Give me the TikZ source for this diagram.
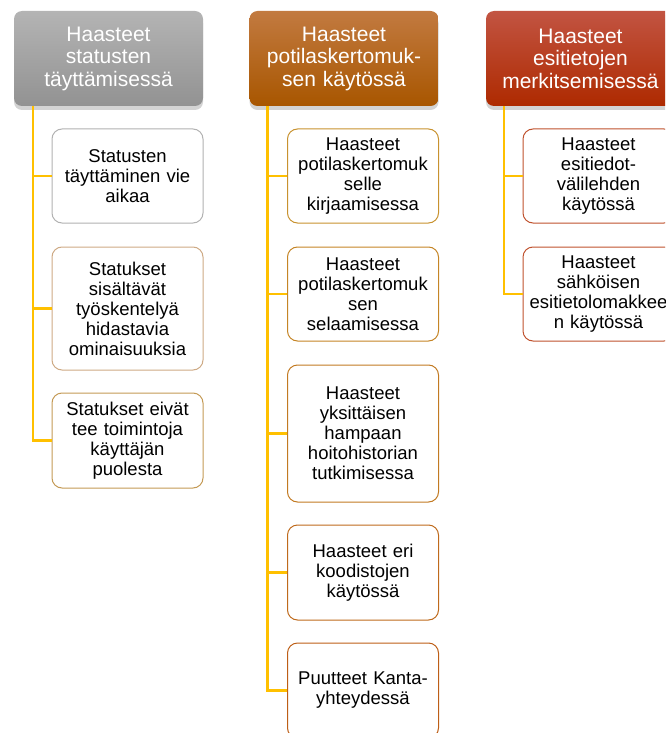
\documentclass[tikz,border=0pt]{standalone}
\usepackage{fontspec}
\setmainfont{Liberation Sans}
\usepackage{tikz}
\usetikzlibrary{shadows}
\definecolor{linkgold}{HTML}{FFC000}
\definecolor{greytop}{HTML}{B4B4B4}
\definecolor{greybot}{HTML}{929292}
\definecolor{browntop}{HTML}{C27A40}
\definecolor{brownbot}{HTML}{A85600}
\definecolor{redtop}{HTML}{C25442}
\definecolor{redbot}{HTML}{AE2A00}
\tikzset{
    head/.style={rounded corners=8pt, minimum width=189pt, minimum height=95pt,
        inner sep=3pt, text width=183pt, align=center, text=white,
        font=\fontsize{21}{22.5}\selectfont,
        drop shadow={shadow xshift=0pt, shadow yshift=-4pt, opacity=0.35}},
    item/.style={draw, fill=white, rounded corners=10pt, line width=1pt,
        minimum width=151pt, inner sep=3pt, text width=145pt, align=center,
        font=\fontsize{18.5}{20}\selectfont},
    link/.style={draw=linkgold, line width=2.5pt}}

\begin{document}
\begin{tikzpicture}[x=1pt, y=-1pt]

    \path[use as bounding box, clip] (0,0) rectangle (665,733);

    % column 1
    \node[head, top color=greytop, bottom color=greybot] (H1) at (108.5,58.5) {Haasteet\\statusten\\täyttämisessä};
    \node[item, draw=black!30, minimum height=94pt] (S1) at (127.5,176) {Statusten\\täyttäminen vie\\aikaa};
    \node[item, draw=brown!60!white!95!black, minimum height=123pt] (S2) at (127.5,308.5) {Statukset\\sisältävät\\työskentelyä\\hidastavia\\ominaisuuksia};
    \node[item, draw={rgb,255:red,196;green,154;blue,85}, minimum height=95pt] (S3) at (127.5,440.5) {Statukset eivät\\tee toimintoja\\käyttäjän\\puolesta};

    % column 2
    \node[head, top color=browntop, bottom color=brownbot] (H2) at (344,58.5) {Haasteet\\potilaskertomuk-\\sen käytössä};
    \node[item, draw={rgb,255:red,200;green,146;blue,47}, minimum height=94pt] (P1) at (363,176) {Haasteet\\potilaskertomuk\\selle\\kirjaamisessa};
    \node[item, draw={rgb,255:red,197;green,133;blue,38}, minimum height=94pt] (P2) at (363,294) {Haasteet\\potilaskertomuk\\sen\\selaamisessa};
    \node[item, draw={rgb,255:red,194;green,122;blue,34}, minimum height=137pt] (P3) at (363,433.5) {Haasteet\\yksittäisen\\hampaan\\hoitohistorian\\tutkimisessa};
    \node[item, draw={rgb,255:red,191;green,106;blue,28}, minimum height=95pt] (P4) at (363,572.5) {Haasteet eri\\koodistojen\\käytössä};
    \node[item, draw={rgb,255:red,189;green,94;blue,22}, minimum height=95pt] (P5) at (363,690.5) {Puutteet Kanta-\\yhteydessä};

    % column 3
    \node[head, top color=redtop, bottom color=redbot] (H3) at (580.5,58.5) {Haasteet\\esitietojen\\merkitsemisessä};
    \node[item, draw={rgb,255:red,192;green,82;blue,46}, minimum height=94pt] (E1) at (598.5,176) {Haasteet\\esitiedot-\\välilehden\\käytössä};
    \node[item, draw={rgb,255:red,192;green,82;blue,46}, minimum height=94pt] (E2) at (598.5,294) {Haasteet\\sähköisen\\esitietolomakkee\\n käytössä};

    \draw[link] ([xshift=19pt]H1.south west) |- (S1.west);
    \draw[link] ([xshift=19pt]H1.south west) |- (S2.west);
    \draw[link] ([xshift=19pt]H1.south west) |- (S3.west);

    \draw[link] ([xshift=18pt]H2.south west) |- (P1.west);
    \draw[link] ([xshift=18pt]H2.south west) |- (P2.west);
    \draw[link] ([xshift=18pt]H2.south west) |- (P3.west);
    \draw[link] ([xshift=18pt]H2.south west) |- (P4.west);
    \draw[link] ([xshift=18pt]H2.south west) |- (P5.west);

    \draw[link] ([xshift=18pt]H3.south west) |- (E1.west);
    \draw[link] ([xshift=18pt]H3.south west) |- (E2.west);

\end{tikzpicture}
\end{document}
